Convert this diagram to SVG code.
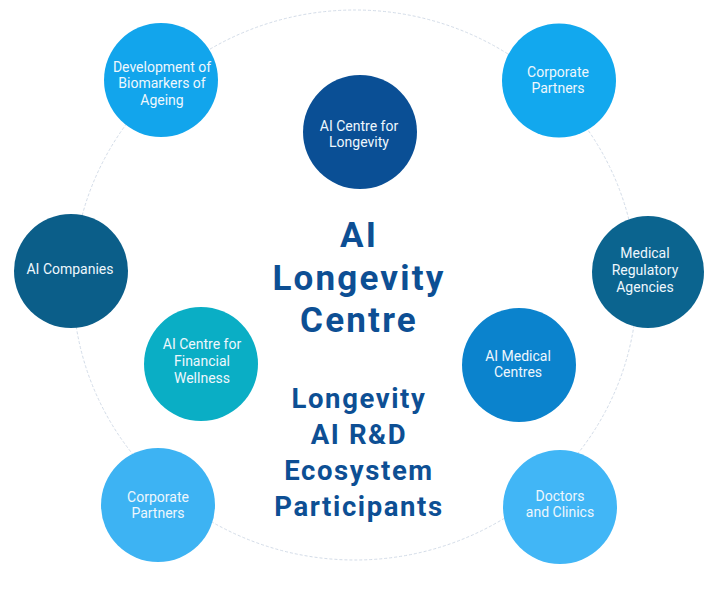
<svg xmlns="http://www.w3.org/2000/svg" width="709" height="591" viewBox="0 0 709 591">
<style>
.node text{font-family:Roboto,"Liberation Sans",sans-serif;font-size:14px;fill:#eef7fd;text-anchor:middle}
.title{font-family:Roboto,"Liberation Sans",sans-serif;font-weight:700;fill:#0d4f94;text-anchor:middle}
.t1{font-size:35px;letter-spacing:2.2px}
.t2{font-size:27.5px;letter-spacing:1.6px}
</style>
<rect width="709" height="591" fill="#ffffff"/>
<g id="connectors">
<ellipse cx="355" cy="285" rx="282" ry="275" fill="none" stroke="#d3dce8" stroke-width="1" stroke-dasharray="3 2"/>
</g>
<g id="title">
<text class="title t1" x="359" y="247">AI</text>
<text class="title t1" x="359" y="290">Longevity</text>
<text class="title t1" x="359" y="332">Centre</text>
<text class="title t2" x="359" y="408">Longevity</text>
<text class="title t2" x="359" y="444">AI R&amp;D</text>
<text class="title t2" x="359" y="480">Ecosystem</text>
<text class="title t2" x="359" y="516">Participants</text>
</g>
<g id="n-biomarkers" class="node">
<circle cx="161" cy="80" r="57" fill="#12a5ec"/>
<text x="162" y="72">Development of</text>
<text x="162" y="88">Biomarkers of</text>
<text x="162" y="105">Ageing</text>
</g>
<g id="n-corporate-top" class="node">
<circle cx="559" cy="80.5" r="57" fill="#12a8ee"/>
<text x="558" y="77">Corporate</text>
<text x="558" y="93">Partners</text>
</g>
<g id="n-ai-longevity" class="node">
<circle cx="360" cy="132" r="57" fill="#0a4f95"/>
<text x="359" y="131">AI Centre for</text>
<text x="359" y="147">Longevity</text>
</g>
<g id="n-ai-companies" class="node">
<circle cx="71" cy="271" r="57" fill="#0b5e89"/>
<text x="70" y="274">AI Companies</text>
</g>
<g id="n-medical-regulatory" class="node">
<circle cx="648" cy="272" r="56" fill="#0b648f"/>
<text x="645" y="258">Medical</text>
<text x="645" y="275">Regulatory</text>
<text x="645" y="292">Agencies</text>
</g>
<g id="n-financial" class="node">
<circle cx="201" cy="364" r="57" fill="#0aaec5"/>
<text x="202" y="349">AI Centre for</text>
<text x="202" y="366">Financial</text>
<text x="202" y="383">Wellness</text>
</g>
<g id="n-ai-medical" class="node">
<circle cx="519" cy="365" r="57" fill="#0b83cd"/>
<text x="518" y="361">AI Medical</text>
<text x="518" y="377">Centres</text>
</g>
<g id="n-corporate-bottom" class="node">
<circle cx="158" cy="505" r="57" fill="#3db3f3"/>
<text x="158" y="502">Corporate</text>
<text x="158" y="518">Partners</text>
</g>
<g id="n-doctors" class="node">
<circle cx="560" cy="507" r="57" fill="#41b6f6"/>
<text x="560" y="501">Doctors</text>
<text x="560" y="517">and Clinics</text>
</g>
</svg>
